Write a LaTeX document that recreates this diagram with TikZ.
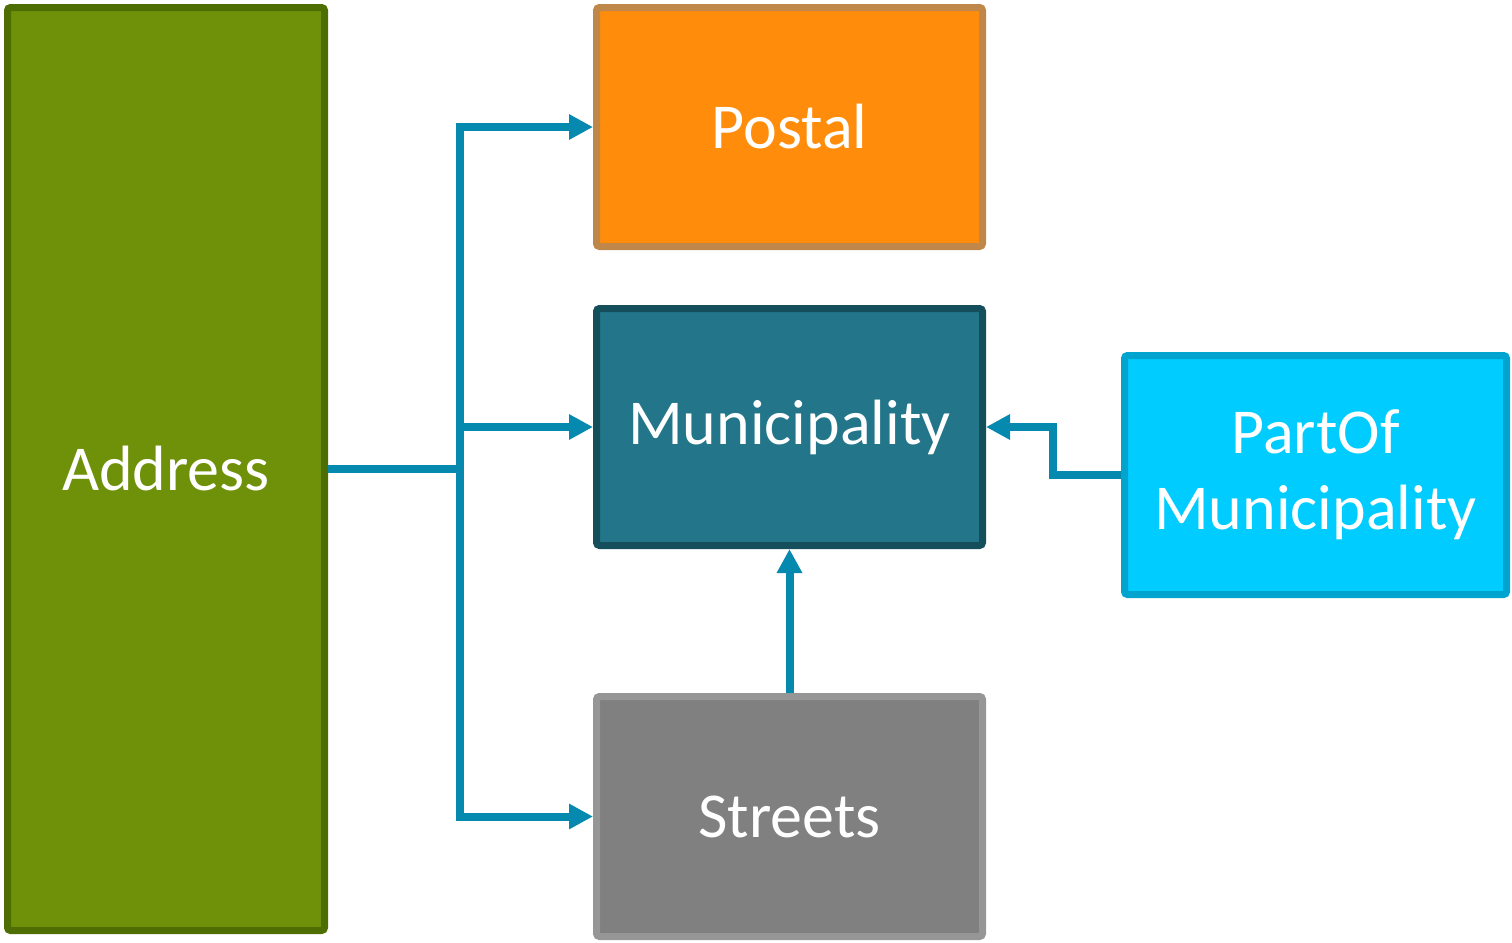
\documentclass[tikz,border=0pt]{standalone}
\usepackage{fontspec}
\setmainfont{Carlito}
\usetikzlibrary{arrows.meta}
\definecolor{addrfill}{HTML}{6F910A}
\definecolor{addrline}{HTML}{4E6D02}
\definecolor{postfill}{HTML}{FF8C0A}
\definecolor{postline}{HTML}{C0874A}
\definecolor{munifill}{HTML}{23768A}
\definecolor{muniline}{HTML}{164F5C}
\definecolor{partfill}{HTML}{00CCFF}
\definecolor{partline}{HTML}{00A4CF}
\definecolor{strfill}{HTML}{808080}
\definecolor{strline}{HTML}{969696}
\definecolor{linkcol}{HTML}{0589AE}
\begin{document}
\begin{tikzpicture}[x=0.5pt, y=-0.5pt,
    box/.style={rectangle, rounded corners=1.5pt, line width=3.5pt, text=white,
        align=center, inner sep=0pt, font=\fontsize{32}{38}\selectfont},
    link/.style={draw=linkcol, line width=4pt, -{Triangle[length=12pt, width=12pt]}}]
    \useasboundingbox (0,0) rectangle (1512,943);
    \node[box, fill=addrfill, draw=addrline, minimum width=158.5pt, minimum height=461.5pt] (addr) at (166,469) {Address};
    \node[box, fill=postfill, draw=postline, minimum width=193pt, minimum height=119.5pt] (postal) at (789.5,127) {Postal};
    \node[box, fill=munifill, draw=muniline, minimum width=193pt, minimum height=118.5pt] (muni) at (789.5,427) {Municipality};
    \node[box, fill=partfill, draw=partline, minimum width=191pt, minimum height=119.5pt] (part) at (1315.5,475) {PartOf\\Municipality};
    \node[box, fill=strfill, draw=strline, minimum width=193pt, minimum height=120pt] (streets) at (789.5,816.5) {Streets};
    \coordinate (junc) at (460,469);
    \draw[draw=linkcol, line width=4pt] (addr.east) -- (junc);
    \draw[link] (junc) |- (postal.west);
    \draw[link] (junc) |- (muni.west);
    \draw[link] (junc) |- (streets.west);
    \draw[link] (part.west) -- ++(-68,0) |- (muni.east);
    \draw[link] (streets.north) -- (muni.south);
\end{tikzpicture}
\end{document}
